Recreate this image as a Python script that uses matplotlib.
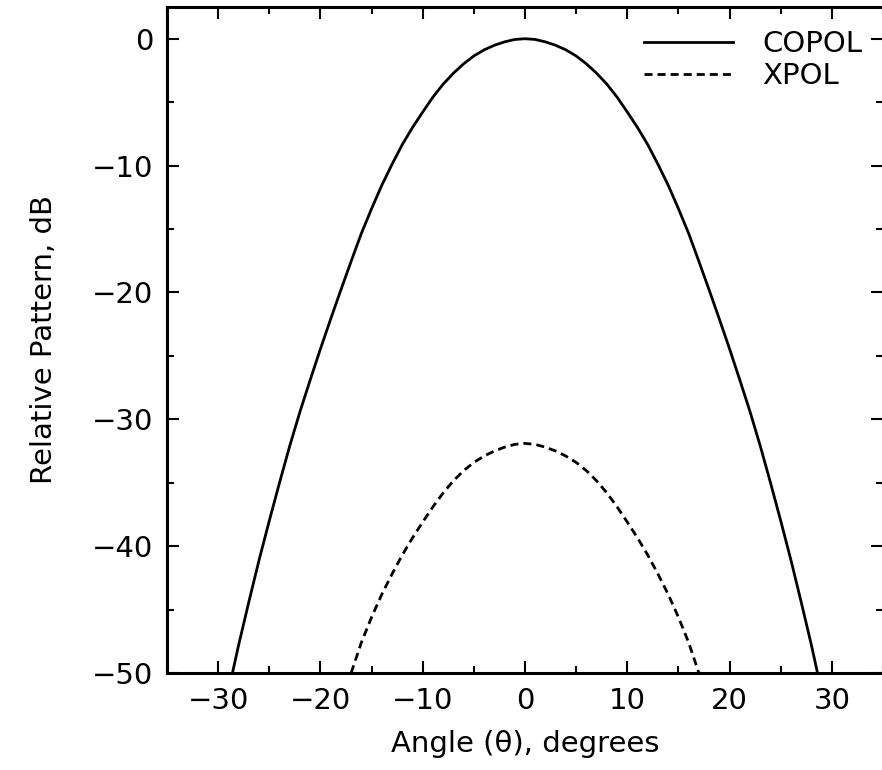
"""
Co-pol / cross-pol relative radiation pattern (dB vs angle)
"""

import numpy as np
import matplotlib
matplotlib.use("Agg")
import matplotlib.pyplot as plt
from matplotlib.ticker import MultipleLocator

plt.rcParams['font.family'] = ['DejaVu Sans']

# Values (1 degree steps)
copol_angle = [-28.6, -28, -27, -26, -25, -24, -23, -22, -21, -20, -19, -18, -17, -16, -15,
               -14, -13, -12, -11, -10, -9, -8, -7, -6, -5, -4, -3, -2, -1, 0,
               1, 2, 3, 4, 5, 6, 7, 8, 9, 10, 11, 12, 13, 14, 15,
               16, 17, 18, 19, 20, 21, 22, 23, 24, 25, 26, 27, 28, 28.6]
copol_db = [-50.0, -47.8, -44.4, -41.1, -38.0, -35.0, -32.1, -29.4, -26.9, -24.45, -22.1,
            -19.8, -17.55, -15.35, -13.4, -11.55, -9.9, -8.35, -7.0, -5.78, -4.6, -3.58,
            -2.72, -1.98, -1.36, -0.88, -0.52, -0.25, -0.06, 0.0,
            -0.06, -0.25, -0.52, -0.88, -1.36, -1.98, -2.72, -3.58, -4.6, -5.78, -7.0,
            -8.35, -9.9, -11.55, -13.4, -15.35, -17.55, -19.8, -22.1, -24.45, -26.9,
            -29.4, -32.1, -35.0, -38.0, -41.1, -44.4, -47.8, -50.0]

xpol_angle = [-17.0, -16, -15, -14, -13, -12, -11, -10, -9, -8, -7, -6, -5, -4, -3, -2, -1, 0,
              1, 2, 3, 4, 5, 6, 7, 8, 9, 10, 11, 12, 13, 14, 15, 16, 17.0]
xpol_db = [-50.0, -47.6, -45.6, -43.8, -42.2, -40.7, -39.35, -38.1, -36.9, -35.8, -34.85,
           -34.05, -33.4, -32.9, -32.5, -32.2, -31.98, -31.9,
           -31.98, -32.2, -32.5, -32.9, -33.4, -34.05, -34.85, -35.8, -36.9, -38.1,
           -39.35, -40.7, -42.2, -43.8, -45.6, -47.6, -50.0]

fig = plt.figure(figsize=(8.82, 7.70), dpi=100)
ax = fig.add_axes([167 / 882, 97 / 770, 716 / 882, 666 / 770])

ax.plot(copol_angle, copol_db, color='black', linewidth=2.0, label='COPOL')
ax.plot(xpol_angle, xpol_db, color='black', linewidth=2.0,
        linestyle=(0, (2.9, 1.8)), label='XPOL')

ax.set_xlim(-35, 35)
ax.set_ylim(-50, 2.5)

ax.xaxis.set_major_locator(MultipleLocator(10))
ax.xaxis.set_minor_locator(MultipleLocator(5))
ax.yaxis.set_major_locator(MultipleLocator(10))
ax.yaxis.set_minor_locator(MultipleLocator(5))

ax.tick_params(which='both', direction='in', top=True, right=True,
               width=1.5, labelsize=21, pad=10)
ax.tick_params(which='major', length=8.6)
ax.tick_params(which='minor', length=5)

for spine in ax.spines.values():
    spine.set_linewidth(2.2)

ax.set_xlabel('Angle (θ), degrees', fontsize=21)
ax.set_ylabel('Relative Pattern, dB', fontsize=21)
ax.xaxis.set_label_coords(0.5, -0.086)
ax.yaxis.set_label_coords(-0.152, 0.5)

ax.legend(loc='upper left', bbox_to_anchor=(0.666, 0.965), frameon=False,
          fontsize=21, handlelength=3.05, handletextpad=1.0,
          labelspacing=0.12, borderpad=0, borderaxespad=0)

fig.savefig('out.png', dpi=100, facecolor='white')
